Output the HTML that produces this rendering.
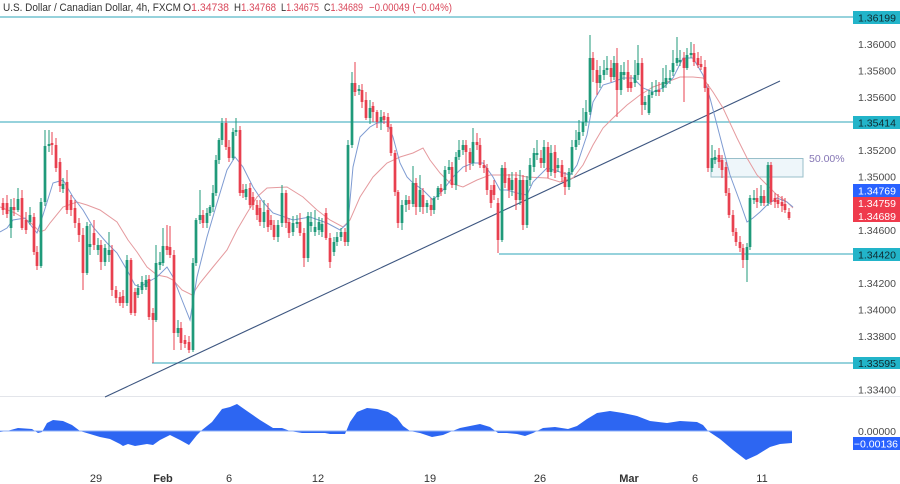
<!DOCTYPE html>
<html><head><meta charset="utf-8"><style>
html,body{margin:0;padding:0;background:#fff;}
svg{display:block;font-family:"Liberation Sans",sans-serif;}
</style></head><body>
<svg width="900" height="484" viewBox="0 0 900 484" xmlns="http://www.w3.org/2000/svg">
<rect width="900" height="484" fill="#fff"/>
<!-- pane separator -->
<line x1="0" y1="396.5" x2="900" y2="396.5" stroke="#e3e5ea" stroke-width="1"/>
<!-- horizontal levels -->
<g stroke="#57b8c6" stroke-width="1.2">
<line x1="0" y1="17" x2="853" y2="17"/>
<line x1="0" y1="122" x2="853" y2="122"/>
<line x1="499" y1="254" x2="853" y2="254"/>
<line x1="152" y1="363" x2="853" y2="363"/>
</g>
<!-- 50% rect -->
<rect x="711" y="158.5" width="92" height="18.5" fill="#eef6fa" stroke="#98bfca" stroke-width="1"/>
<text x="809" y="162" font-size="10.5" fill="#8576b5">50.00%</text>
<!-- trendline -->
<line x1="105" y1="397" x2="780" y2="81" stroke="#3d5680" stroke-width="1.1"/>
<!-- MAs -->
<polyline fill="none" stroke="#e59a9e" stroke-width="1" points="0,207 15,213 30,222 40,232 45,230 50,223 63,207 77,202 87,205 100,210 117,222 128,240 137,252 147,267 157,275 167,277 173,280 182,290 192,295 200,283 213,267 227,250 237,230 247,213 257,197 267,188 287,187 303,197 317,210 330,220 343,227 350,220 360,197 373,177 387,163 400,157 413,153 423,148 430,160 440,173 450,183 463,187 477,180 490,175 503,175 517,175 527,177 547,178 560,182 573,178 583,165 593,145 603,128 613,118 627,105 640,95 653,87 667,82 680,77 693,77 703,78 713,92 723,108 737,138 747,158 757,175 767,185 777,195 787,202 793,208"/>
<polyline fill="none" stroke="#7e9bd2" stroke-width="1" points="0,232 7,228 13,220 25,218 37,233 43,215 53,183 63,180 73,197 83,210 93,227 107,243 117,253 127,270 135,285 140,287 148,282 157,277 167,267 173,277 182,300 190,320 197,277 207,237 217,203 227,170 235,157 243,167 253,187 263,202 273,213 293,220 310,217 327,223 340,230 348,223 353,167 360,137 370,127 377,123 387,122 393,137 400,163 407,177 413,183 423,190 433,200 443,190 453,177 463,167 473,163 483,163 493,177 500,190 507,190 517,193 527,195 533,182 547,168 560,172 570,175 577,165 587,135 593,102 603,85 613,82 623,78 633,78 643,88 653,92 663,88 673,78 683,58 693,58 703,75 710,98 717,125 723,148 730,175 740,202 747,222 753,218 760,212 767,205 777,198 787,202 793,207"/>
<!-- green candles -->
<path fill="none" stroke="#1f9a7a" stroke-width="1" d="M11 199V238M18 188V212M30 207V225M41 198V268M45 130V206M49 130V152M63 178V193M87 222V275M90 224V255M98 238V255M105 244V266M109 232V262M127 255V306M138 284V298M142 276V294M146 275V290M156 245V322M160 252V270M163 228V266M178 320V337M193 258V352M196 218V266M200 190V224M207 208V228M210 205V216M213 185V212M216 155V196M219 138V164M222 118V145M233 128V160M236 118V136M246 184V200M264 200V228M278 220V242M282 185V227M293 216V236M297 215V228M308 212V262M311 212V232M315 210V236M319 217V235M322 218V237M334 237V256M337 232V246M341 228V241M348 140V246M352 72V148M359 85V95M370 100V124M381 110V130M402 200V230M406 195V212M413 166V207M420 175V212M427 200V213M434 196V214M438 186V200M445 166V194M449 160V174M456 152V190M459 140V160M463 140V155M473 128V166M502 165V242M512 172V196M520 170V205M527 176V228M530 158V186M534 148V172M537 140V160M544 140V168M551 145V176M558 158V172M569 168V190M572 140V175M576 130V150M579 120V145M583 108V136M586 100V126M590 35V115M600 66V88M604 60V80M607 56V75M614 56V80M621 65V95M624 62V80M635 60V87M638 45V80M645 96V110M649 90V115M652 82V98M656 80V96M663 68V92M666 65V88M670 70V84M673 50V76M677 37V66M680 50V66M687 48V70M691 42V58M712 145V172M715 150V164M747 243V282M750 195V250M754 190V204M761 185V206M768 162V206"/>
<path fill="none" stroke="#1f9a7a" stroke-width="2.7" d="M11 228V207M18 210V199M30 222V215M41 266V202M45 202V146M49 146V144M63 189V184M87 273V226M90 247V244M98 250V245M105 262V248M109 255V250M127 303V260M138 295V288M142 290V282M146 287V280M156 320V263M160 265V262M163 263V246M178 333V328M193 350V263M196 263V220M200 220V215M207 223V213M210 213V207M213 207V193M216 193V160M219 160V140M222 140V123M233 158V132M236 132V130M246 197V189M264 222V212M278 237V225M282 223V193M293 232V223M297 224V222M308 258V216M311 226V222M315 232V227M319 230V222M322 232V224M334 252V242M337 242V237M341 237V232M348 242V145M352 145V83M359 91V89M370 118V108M381 122V117M402 223V205M406 205V200M413 204V183M420 207V190M427 207V203M434 210V198M438 197V188M445 190V170M449 170V167M456 185V157M459 157V150M463 150V145M473 163V142M502 240V168M512 190V180M520 200V180M527 225V180M530 180V165M534 167V153M537 155V153M544 163V147M551 172V153M558 168V165M569 187V172M572 172V147M576 147V140M579 140V132M583 132V122M586 122V112M590 112V58M600 83V75M604 75V70M607 70V68M614 77V63M621 90V72M624 75V72M635 83V75M638 75V63M645 105V102M649 113V95M652 95V92M656 92V90M663 88V82M666 84V78M670 80V78M673 72V63M677 63V58M680 62V60M687 68V55M691 55V53M712 168V158M715 160V157M747 260V247M750 247V198M754 200V198M761 203V196M768 203V165"/>
<!-- red candles -->
<path fill="none" stroke="#e8404f" stroke-width="1" d="M3 198V215M7 195V218M14 198V216M22 190V230M26 212V234M34 213V255M37 246V270M52 132V155M56 138V172M60 158V192M67 170V214M71 195V216M75 200V228M79 218V242M83 228V290M94 220V250M101 240V270M112 245V296M116 286V303M120 292V306M123 290V308M131 258V315M135 288V316M149 275V320M153 308V363M167 225V255M170 226V258M174 250V350M181 322V350M185 335V348M189 336V353M203 210V228M226 118V150M229 140V162M240 126V196M243 184V198M250 183V208M253 192V210M257 200V220M260 200V226M268 203V232M271 215V230M274 220V240M286 190V228M289 218V238M300 213V236M304 228V267M326 208V240M330 233V268M345 228V246M355 62V96M362 84V108M366 92V120M373 102V122M377 110V128M384 112V124M388 113V132M391 124V156M395 150V196M398 190V228M409 196V210M416 178V215M423 188V214M431 198V216M441 184V196M452 162V188M466 140V172M470 148V170M477 133V150M480 138V168M484 160V173M487 164V195M491 185V208M494 180V200M498 198V253M505 162V188M509 174V198M516 172V210M523 175V230M541 150V168M548 142V178M555 145V178M562 160V182M565 172V195M593 52V82M597 60V95M611 60V82M617 48V117M628 60V92M631 75V92M642 58V115M659 82V96M684 52V102M694 44V66M698 52V68M701 56V70M705 60V92M708 84V172M719 148V168M722 155V178M726 162V196M729 188V218M733 210V236M736 228V246M740 236V252M743 244V268M757 188V208M764 190V206M771 162V205M775 193V208M778 194V208M782 196V212M785 198V213M789 208V220"/>
<path fill="none" stroke="#e8404f" stroke-width="2.7" d="M3 203V210M7 203V214M14 207V210M22 198V228M26 220V230M34 217V252M37 252V266M52 143V145M56 145V168M60 162V186M67 182V210M71 200V210M75 208V223M79 223V235M83 235V273M94 233V245M101 245V262M112 250V290M116 290V298M120 297V303M123 296V303M131 260V313M135 292V313M149 279V317M153 313V320M167 246V250M170 247V255M174 255V333M181 328V343M185 340V344M189 342V350M203 215V223M226 123V147M229 147V158M240 130V193M243 190V193M250 188V205M253 197V205M257 205V215M260 208V222M268 210V227M271 220V225M274 225V237M286 193V223M289 222V233M300 222V233M304 233V258M326 213V238M330 238V262M345 232V242M355 83V92M362 90V102M366 100V118M373 106V112M377 112V122M384 116V120M388 117V127M391 127V153M395 153V192M398 192V223M409 200V204M416 183V207M423 195V207M431 205V210M441 188V192M452 167V185M466 145V152M470 152V163M477 142V145M480 145V165M484 165V168M487 168V190M491 190V203M494 185V195M498 203V240M505 168V183M509 178V190M516 178V200M523 180V225M541 158V163M548 147V172M555 152V173M562 165V177M565 177V187M593 58V70M597 70V83M611 68V77M617 63V90M628 72V88M631 82V88M642 63V105M659 90V92M684 58V68M694 53V62M698 58V65M701 64V67M705 67V88M708 88V168M719 155V162M722 160V170M726 167V193M729 193V215M733 215V232M736 232V242M740 242V248M743 248V260M757 198V202M764 196V203M771 165V202M775 198V202M778 200V204M782 202V206M785 204V210M789 212V218"/>
<!-- indicator -->
<path fill="#2d66f2" d="M0,431 L0,432 7,431 18,428 32,429 38,433 42,432 47,423 53,420 63,421 72,425 80,431 90,434 100,437 110,439 120,444 123,446 128,444 135,446 147,444 153,445 160,440 170,435 180,440 189,445 197,435 202,430 212,422 222,409 230,407 237,404 247,411 260,420 273,428 282,428 290,431 302,433 313,433 325,433 330,434 345,434 350,422 357,412 367,408 377,409 388,412 397,418 403,426 410,431 420,433 432,437 443,435 450,432 460,428 470,426 480,424 490,427 498,433 507,433 517,434 525,436 533,433 543,428 555,427 568,429 577,426 587,419 597,413 610,411 623,413 637,416 650,421 667,423 680,421 697,422 703,425 708,431 720,439 733,450 746,460 757,455 770,447 780,444 792,443 L792,431 Z"/>
<line x1="0" y1="431" x2="792" y2="431" stroke="#8fb0f7" stroke-width="1"/>
<!-- header -->
<g font-size="11" fill="#333">
<text x="3" y="11" textLength="178" lengthAdjust="spacingAndGlyphs">U.S. Dollar / Canadian Dollar, 4h, FXCM</text>
<text x="183" y="11" textLength="46" lengthAdjust="spacingAndGlyphs">O<tspan fill="#d9475a">1.34738</tspan></text>
<text x="234" y="11" textLength="42" lengthAdjust="spacingAndGlyphs">H<tspan fill="#d9475a">1.34768</tspan></text>
<text x="281" y="11" textLength="38" lengthAdjust="spacingAndGlyphs">L<tspan fill="#d9475a">1.34675</tspan></text>
<text x="324" y="11" textLength="39" lengthAdjust="spacingAndGlyphs">C<tspan fill="#d9475a">1.34689</tspan></text>
<text x="369" y="11" textLength="83" lengthAdjust="spacingAndGlyphs" fill="#d9475a">−0.00049 (−0.04%)</text>
</g>
<!-- y axis labels -->
<g font-size="10.5" fill="#4a4a4a" text-anchor="end">
<text x="896" y="48">1.36000</text>
<text x="896" y="74.5">1.35800</text>
<text x="896" y="101">1.35600</text>
<text x="896" y="154">1.35200</text>
<text x="896" y="180.5">1.35000</text>
<text x="896" y="234">1.34600</text>
<text x="896" y="287">1.34200</text>
<text x="896" y="313.5">1.34000</text>
<text x="896" y="340">1.33800</text>
<text x="896" y="393.5">1.33400</text>
<text x="896" y="435">0.00000</text>
</g>
<!-- price label boxes -->
<g font-size="10.5" text-anchor="end">
<rect x="853" y="11" width="47" height="13" fill="#22b4c9"/><text x="896" y="21.5" fill="#102a30">1.36199</text>
<rect x="853" y="116" width="47" height="13" fill="#22b4c9"/><text x="896" y="126.5" fill="#102a30">1.35414</text>
<rect x="853" y="248" width="47" height="13" fill="#22b4c9"/><text x="896" y="258.5" fill="#102a30">1.34420</text>
<rect x="853" y="357" width="47" height="12" fill="#22b4c9"/><text x="896" y="367" fill="#102a30">1.33595</text>
<rect x="853" y="184" width="47" height="13" fill="#2962ff"/><text x="896" y="194.5" fill="#fff">1.34769</text>
<rect x="853" y="197" width="47" height="25" fill="#ef3a4c"/><text x="896" y="207" fill="#fff">1.34759</text><text x="896" y="220" fill="#fff">1.34689</text>
<rect x="853" y="437" width="47" height="13" fill="#2962ff"/><text x="898" y="447.5" fill="#fff">−0.00136</text>
</g>
<!-- x axis labels -->
<g font-size="11" fill="#333" text-anchor="middle">
<text x="96" y="482">29</text>
<text x="163" y="482" font-weight="bold">Feb</text>
<text x="229" y="482">6</text>
<text x="318" y="482">12</text>
<text x="430" y="482">19</text>
<text x="540" y="482">26</text>
<text x="629" y="482" font-weight="bold">Mar</text>
<text x="695" y="482">6</text>
<text x="762" y="482">11</text>
</g>
</svg>
</body></html>
